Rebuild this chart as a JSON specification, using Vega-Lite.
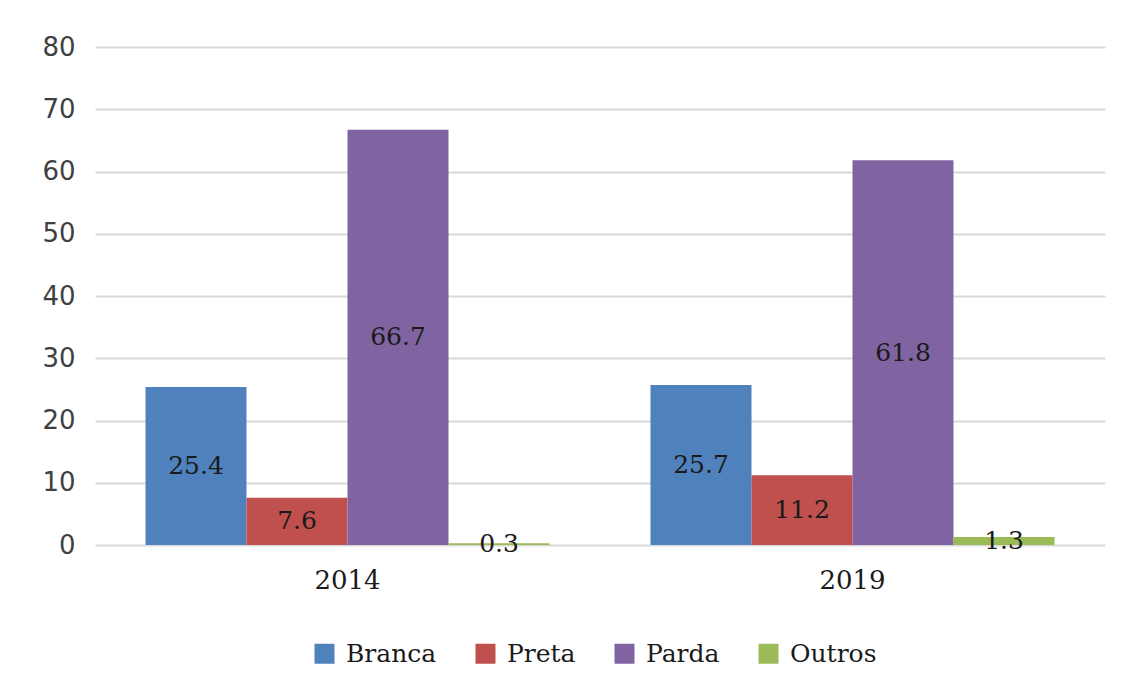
{
  "$schema": "https://vega.github.io/schema/vega-lite/v6.json",
  "autosize": "none",
  "width": 1010,
  "height": 498,
  "padding": {"left": 95, "top": 47, "right": 24, "bottom": 146},
  "background": "white",
  "data": {"values": [
    {"ano": "2014", "cor": "Branca", "valor": 25.4},
    {"ano": "2014", "cor": "Preta", "valor": 7.6},
    {"ano": "2014", "cor": "Parda", "valor": 66.7},
    {"ano": "2014", "cor": "Outros", "valor": 0.3},
    {"ano": "2019", "cor": "Branca", "valor": 25.7},
    {"ano": "2019", "cor": "Preta", "valor": 11.2},
    {"ano": "2019", "cor": "Parda", "valor": 61.8},
    {"ano": "2019", "cor": "Outros", "valor": 1.3}
  ]},
  "encoding": {
    "x": {"field": "ano", "type": "nominal",
      "scale": {"paddingInner": 0.2, "paddingOuter": 0.1},
      "axis": {"title": null, "labelAngle": 0, "domain": false, "ticks": false,
        "labelFont": "DejaVu Serif", "labelFontSize": 26, "labelColor": "#1a1a1a", "labelPadding": 22}},
    "xOffset": {"field": "cor", "type": "nominal", "sort": ["Branca", "Preta", "Parda", "Outros"],
      "scale": {"paddingInner": 0, "paddingOuter": 0}}
  },
  "layer": [
    {
      "mark": {"type": "bar"},
      "encoding": {
        "y": {"field": "valor", "type": "quantitative",
          "scale": {"domain": [0, 80]},
          "axis": {"title": null, "values": [0,10,20,30,40,50,60,70,80], "labelOverlap": false, "domain": false, "ticks": false,
            "labelFont": "DejaVu Sans", "labelFontSize": 26, "labelColor": "#404040", "labelPadding": 20,
            "gridColor": "#d9d9d9", "gridWidth": 2}},
        "color": {"field": "cor", "type": "nominal", "sort": ["Branca", "Preta", "Parda", "Outros"],
          "scale": {"domain": ["Branca", "Preta", "Parda", "Outros"], "range": ["#4F81BD", "#C0504D", "#8064A2", "#9BBB59"]},
          "legend": {"title": null, "orient": "none", "legendX": 217, "legendY": 594, "direction": "horizontal", "symbolType": "square", "symbolSize": 400,
            "symbolStrokeWidth": 0, "labelFont": "DejaVu Serif", "labelFontSize": 25, "labelColor": "#1a1a1a",
            "columnPadding": 36, "labelOffset": 9}}
      }
    },
    {
      "transform": [{"calculate": "datum.valor / 2", "as": "meio"}],
      "mark": {"type": "text", "font": "DejaVu Serif", "fontSize": 25, "color": "#1a1a1a", "baseline": "middle"},
      "encoding": {
        "y": {"field": "meio", "type": "quantitative"},
        "text": {"field": "valor", "type": "quantitative", "format": ".1f"}
      }
    }
  ],
  "config": {"view": {"stroke": null}}
}
